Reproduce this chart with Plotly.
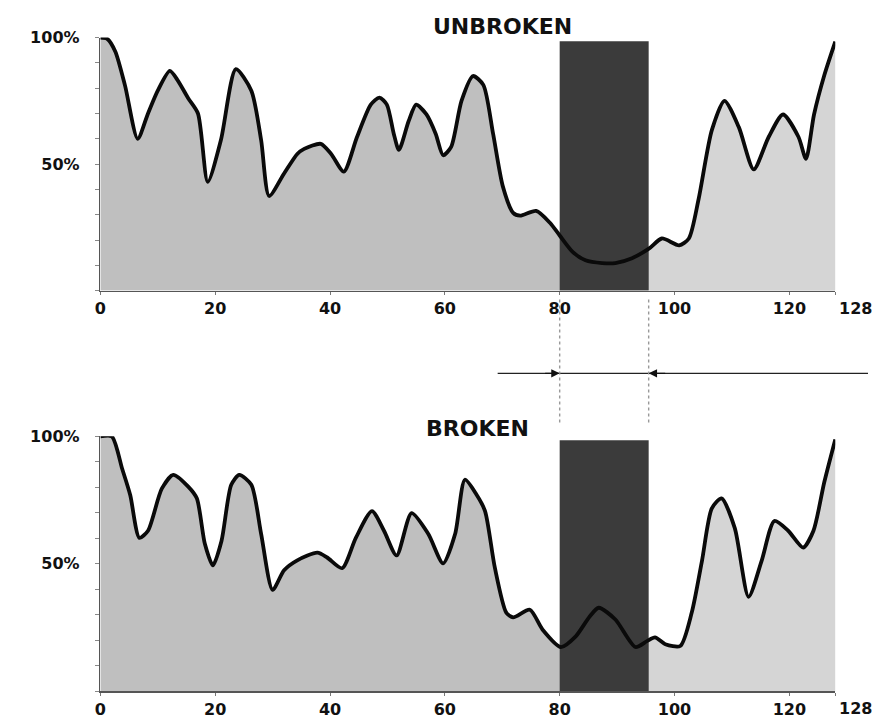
import numpy as np
import plotly.graph_objects as go

# ---------------- data ----------------
unbroken_x = [0, 1.2, 2.6, 4.3, 6.5, 8.3, 10, 12.1, 13.5, 15.3, 17, 18.7, 21, 23.6, 26.3,
              28, 29.4, 32, 34.3, 35.5, 38.4, 40.2, 42.4, 44.7, 47.1, 48.6, 49.9, 51.1, 52,
              53.7, 55, 56.8, 58.4, 59.7, 61.1, 62.9, 64.9, 66.7, 68.4, 70.1, 71.9, 73.1,
              75.9, 78.3, 80, 82.3, 84.5, 87.4, 89.7, 92.6, 95.6, 97.8, 100.8, 102.5, 104.2,
              106.5, 108.7, 111.2, 113.8, 116.4, 118.9, 121.6, 122.9, 124.3, 126.1, 128]
unbroken_y = [100, 99.5, 94.5, 81, 60, 70, 79, 86.8, 83, 76, 70, 43, 59.5, 87.5, 79,
              59.5, 37.4, 46.3, 54, 56, 58, 54, 47, 60.7, 73.5, 76.3, 73.5, 62, 55.6,
              67, 73.5, 69.6, 62, 53.5, 56.8, 75, 84.8, 81.3, 62, 41.2, 30.7, 29.6,
              31.5, 26.8, 21.8, 15.2, 12, 10.9, 10.9, 12.8, 16.7, 20.6, 17.9, 20.6, 36.2,
              63.4, 75, 64.6, 47.9, 60.7, 69.6, 60.7, 52.1, 69.6, 85.2, 98.4]

broken_x = [0, 2, 3.8, 5.2, 6.8, 8.3, 10.7, 12.7, 15.3, 16.8, 18.2, 19.6, 21.1, 22.8, 24.2,
            26.3, 28, 30, 32, 34.3, 37.8, 39.5, 42.1, 44.5, 47.3, 49.4, 51.6, 54.2, 57.1,
            59.7, 61.8, 63.5, 65.5, 67, 68.7, 70.7, 71.9, 74.8, 77, 80.2, 82.8, 85.2, 86.8,
            89.7, 93.2, 95.2, 96.6, 98.4, 101, 103, 104.8, 106.5, 108.2, 110.5, 112.9,
            115.2, 117.4, 119.8, 122.4, 124.2, 126.1, 128]
broken_y = [100, 100, 87.3, 77, 60.2, 63, 79.5, 84.9, 80.3, 75.7, 57.9, 49.4, 59, 81, 84.9,
            81, 61.8, 39.8, 47.5, 51.4, 54.4, 52.5, 48.3, 60.2, 70.7, 63, 53.3, 69.9, 61.8,
            50.2, 61.8, 83, 77.2, 70.7, 48.6, 30.9, 29, 32, 24.3, 17.4, 21.6, 29.3, 32.8,
            28.2, 17.4, 19.7, 21.2, 18.5, 17.8, 30.9, 51.4, 71.8, 75.7, 64, 37.1,
            51.4, 66.8, 63, 56.4, 63, 82.2, 98.8]

band_start = 80
band_end = 95.5
band_top = 98.5

x_tick_vals = [0, 20, 40, 60, 80, 100, 120, 128]
x_tick_text = ["0", "20", "40", "60", "80", "100", "120", ""]
x_end_label = "128"
y_tick_vals = [0, 10, 20, 30, 40, 50, 60, 70, 80, 90, 100]
y_tick_text = ["", "", "", "", "", "50%", "", "", "", "", "100%"]

titles = ["UNBROKEN", "BROKEN"]
title_x = [70, 65.7]

arrow_line_start = 69.2
arrow_line_end = 133.7

# ---------------- layout geometry ----------------
W, H = 875, 719
x_dom = [95 / W, 835 / W]
top_dom = [1 - 286 / H, 1 - 29 / H]
bot_dom = [1 - 693 / H, 1 - 434 / H]
XMAX = 128

def xpaper(v):
    return x_dom[0] + v / XMAX * (x_dom[1] - x_dom[0])

LEFT_FILL = "#bfbfbf"
RIGHT_FILL = "#d5d5d5"
BAND = "#3b3b3b"
FONT = "DejaVu Sans"

fig = go.Figure()

def add_panel(xs, ys, xa, ya):
    xs = np.asarray(xs, float)
    ys = np.asarray(ys, float)
    fig.add_trace(go.Scatter(x=xs, y=ys, mode="lines", fill="tozeroy",
                             fillcolor=LEFT_FILL, line=dict(width=0, shape="spline", smoothing=0.7),
                             xaxis=xa, yaxis=ya, hoverinfo="skip", cliponaxis=False))
    mask = xs > band_end
    rx = np.concatenate([[band_end], xs[mask]])
    ry = np.concatenate([[np.interp(band_end, xs, ys)], ys[mask]])
    fig.add_trace(go.Scatter(x=rx, y=ry, mode="lines", fill="tozeroy",
                             fillcolor=RIGHT_FILL, line=dict(width=0, shape="spline", smoothing=0.7),
                             xaxis=xa, yaxis=ya, hoverinfo="skip", cliponaxis=False))
    fig.add_trace(go.Scatter(x=[band_start, band_start, band_end, band_end],
                             y=[0, band_top, band_top, 0], mode="lines", fill="toself",
                             fillcolor=BAND, line=dict(width=0),
                             xaxis=xa, yaxis=ya, hoverinfo="skip"))
    fig.add_trace(go.Scatter(x=xs, y=ys, mode="lines",
                             line=dict(color="#0a0a0a", width=3.8, shape="spline", smoothing=0.7),
                             xaxis=xa, yaxis=ya, hoverinfo="skip", cliponaxis=False))

add_panel(unbroken_x, unbroken_y, "x", "y")
add_panel(broken_x, broken_y, "x2", "y2")

xaxis_common = dict(range=[0, XMAX], domain=x_dom, showgrid=False, zeroline=False,
                    showline=True, linecolor="#555", linewidth=1.6,
                    ticks="outside", ticklen=3, tickcolor="#777", tickwidth=1,
                    tickvals=x_tick_vals, ticktext=x_tick_text,
                    tickfont=dict(family=FONT, size=16, color="#111", weight="bold"),
                    fixedrange=True)
yaxis_common = dict(range=[0, 100], showgrid=False, zeroline=False,
                    showline=True, linecolor="#555", linewidth=1.6,
                    ticks="outside", ticklen=4, tickcolor="#888", tickwidth=1,
                    tickvals=y_tick_vals, ticktext=y_tick_text,
                    tickfont=dict(family=FONT, size=16, color="#111", weight="bold"),
                    ticklabelstandoff=12, fixedrange=True)

fig.update_layout(
    width=W, height=H,
    margin=dict(l=0, r=0, t=0, b=0),
    paper_bgcolor="white", plot_bgcolor="rgba(0,0,0,0)",
    showlegend=False,
    xaxis=dict(**xaxis_common, anchor="y"),
    yaxis=dict(**yaxis_common, domain=top_dom, anchor="x"),
    xaxis2=dict(**xaxis_common, anchor="y2"),
    yaxis2=dict(**yaxis_common, domain=bot_dom, anchor="x2"),
)

annotations = []
annotations.append(dict(x=title_x[0], y=1 - 18 / H, xref="x", yref="paper", text=titles[0],
                        showarrow=False, yanchor="middle",
                        font=dict(family=FONT, size=22, color="#111", weight="bold")))
annotations.append(dict(x=title_x[1], y=1 - 426 / H, xref="x2", yref="paper", text=titles[1],
                        showarrow=False, yanchor="middle",
                        font=dict(family=FONT, size=22, color="#111", weight="bold")))
# "128" end labels: same height as the x tick labels, nudged right
for ya in ("y domain", "y2 domain"):
    annotations.append(dict(x=XMAX, y=0, xref="x", yref=ya, text=x_end_label,
                            xshift=20, yshift=-6, xanchor="center", yanchor="top",
                            showarrow=False,
                            font=dict(family=FONT, size=16, color="#111", weight="bold")))
arrow_y = 1 - 370 / H
annotations.append(dict(x=xpaper(band_start), y=arrow_y, xref="paper", yref="paper", text="",
                        showarrow=True, ax=-16, ay=0, arrowhead=2, arrowsize=1.2, arrowwidth=1.4,
                        arrowcolor="#111", standoff=0))
annotations.append(dict(x=xpaper(band_end), y=arrow_y, xref="paper", yref="paper", text="",
                        showarrow=True, ax=18, ay=0, arrowhead=2, arrowsize=1.2, arrowwidth=1.4,
                        arrowcolor="#111", standoff=0))
fig.update_layout(annotations=annotations)

shapes = []
shapes.append(dict(type="line", xref="paper", yref="paper",
                   x0=xpaper(arrow_line_start), x1=xpaper(arrow_line_end), y0=arrow_y, y1=arrow_y,
                   line=dict(color="#222", width=1.2)))
for bx in (band_start, band_end):
    shapes.append(dict(type="line", xref="paper", yref="paper",
                       x0=xpaper(bx), x1=xpaper(bx), y0=1 - 420 / H, y1=1 - 292 / H,
                       line=dict(color="#999", width=1.4, dash="dot")))
fig.update_layout(shapes=shapes)

post = "document.body.style.margin='0';document.body.style.padding='0';document.body.style.overflow='hidden';"
fig.write_html("out.html", post_script=post, config={"displayModeBar": False, "staticPlot": True})
